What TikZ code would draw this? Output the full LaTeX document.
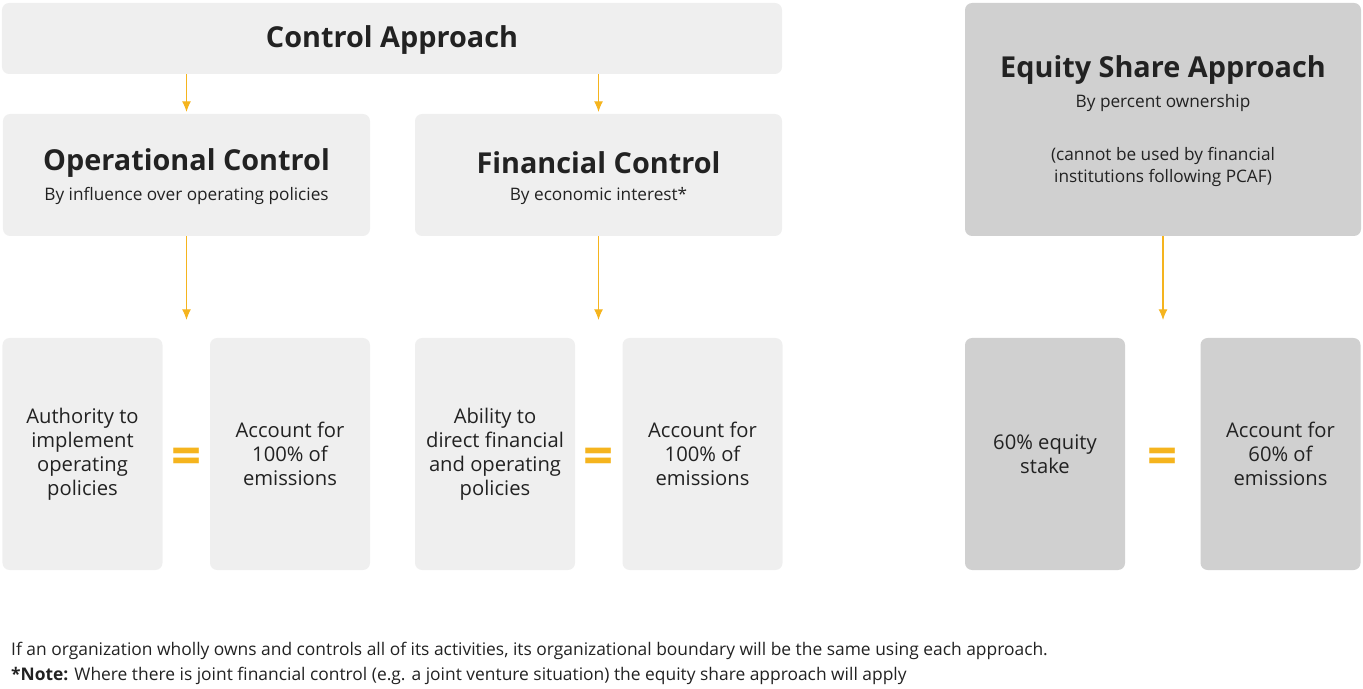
\documentclass[tikz,border=0pt]{standalone}
\usepackage{fontspec}
\setmainfont{Open Sans}
\usetikzlibrary{positioning,arrows.meta}
\definecolor{boxlight}{HTML}{EFEFEF}
\definecolor{boxdark}{HTML}{D0D0D0}
\definecolor{arrowgold}{HTML}{F5B41E}
\definecolor{textgray}{HTML}{222222}
\tikzset{
    box/.style={fill=boxlight, rounded corners=4pt, inner sep=0pt, text=textgray},
    darkbox/.style={box, fill=boxdark},
    cell/.style={box, minimum width=3.2cm, minimum height=4.64cm, align=center, font=\fontsize{11.5}{13.6}\selectfont},
    title/.style={font=\fontsize{16.4}{19}\selectfont\bfseries, text=textgray},
    sub/.style={font=\fontsize{9.8}{13}\selectfont, text=textgray, align=center},
    goldarrow/.style={arrowgold, semithick, -{Latex[length=6pt,width=5pt]}},
    equal/.style={text=arrowgold, font=\fontsize{30}{30}\selectfont\bfseries},
    foot/.style={anchor=west, font=\fontsize{9.9}{12}\selectfont, text=textgray}
}
\begin{document}
\begin{tikzpicture}
    \useasboundingbox (0,0) rectangle (27.26,-13.78);
    % top boxes
    \node[box, minimum width=15.6cm, minimum height=1.42cm] (ca) at (7.84,-0.77) {};
    \node[title] at (7.84,-0.8) {Control Approach};
    \node[box, minimum width=7.34cm, minimum height=2.44cm] (oc) at (3.73,-3.5) {};
    \node[title] at (3.73,-3.26) {Operational Control};
    \node[sub] at (3.73,-3.92) {By influence over operating policies};
    \node[box, minimum width=7.34cm, minimum height=2.44cm] (fc) at (11.97,-3.5) {};
    \node[title] at (11.97,-3.26) {Financial Control};
    \node[sub] at (11.97,-3.92) {By economic interest*};
    \node[darkbox, minimum width=7.92cm, minimum height=4.66cm] (es) at (23.26,-2.39) {};
    \node[title] at (23.26,-1.4) {Equity Share Approach};
    \node[sub] at (23.26,-2.06) {By percent ownership};
    \node[sub] at (23.26,-3.34) {(cannot be used by financial\\institutions following PCAF)};
    % bottom cells
    \node[cell] (oca) at (1.65,-9.08) {Authority to\\implement\\operating\\policies};
    \node[cell] (ocb) at (5.8,-9.08) {Account for\\100\% of\\emissions};
    \node[cell] (fca) at (9.9,-9.08) {Ability to\\direct financial\\and operating\\policies};
    \node[cell] (fcb) at (14.05,-9.08) {Account for\\100\% of\\emissions};
    \node[cell, fill=boxdark] (esa) at (20.9,-9.08) {60\% equity\\stake};
    \node[cell, fill=boxdark] (esb) at (25.61,-9.08) {Account for\\60\% of\\emissions};
    \foreach \x in {3.73,11.97,23.26}
        \node[equal] at (\x,-9.22) {=};
    % arrows
    \coordinate (t1) at (3.73,-2.24);
    \coordinate (t2) at (11.97,-2.24);
    \coordinate (b1) at (3.73,-6.4);
    \coordinate (b2) at (11.97,-6.4);
    \coordinate (b3) at (23.26,-6.4);
    \draw[goldarrow] (ca.south -| t1) -- (t1);
    \draw[goldarrow] (ca.south -| t2) -- (t2);
    \draw[goldarrow] (oc.south) -- (b1);
    \draw[goldarrow] (fc.south) -- (b2);
    \draw[goldarrow] (es.south) -- (b3);
    % footer
    \node[foot] (f1) at (0.1,-13.02) {If an organization wholly owns and controls all of its activities, its organizational boundary will be the same using each approach.};
    \node[foot] (f2) at (0.1,-13.52) {\textbf{*Note:} Where there is joint financial control (e.g. a joint venture situation) the equity share approach will apply};
\end{tikzpicture}
\end{document}
